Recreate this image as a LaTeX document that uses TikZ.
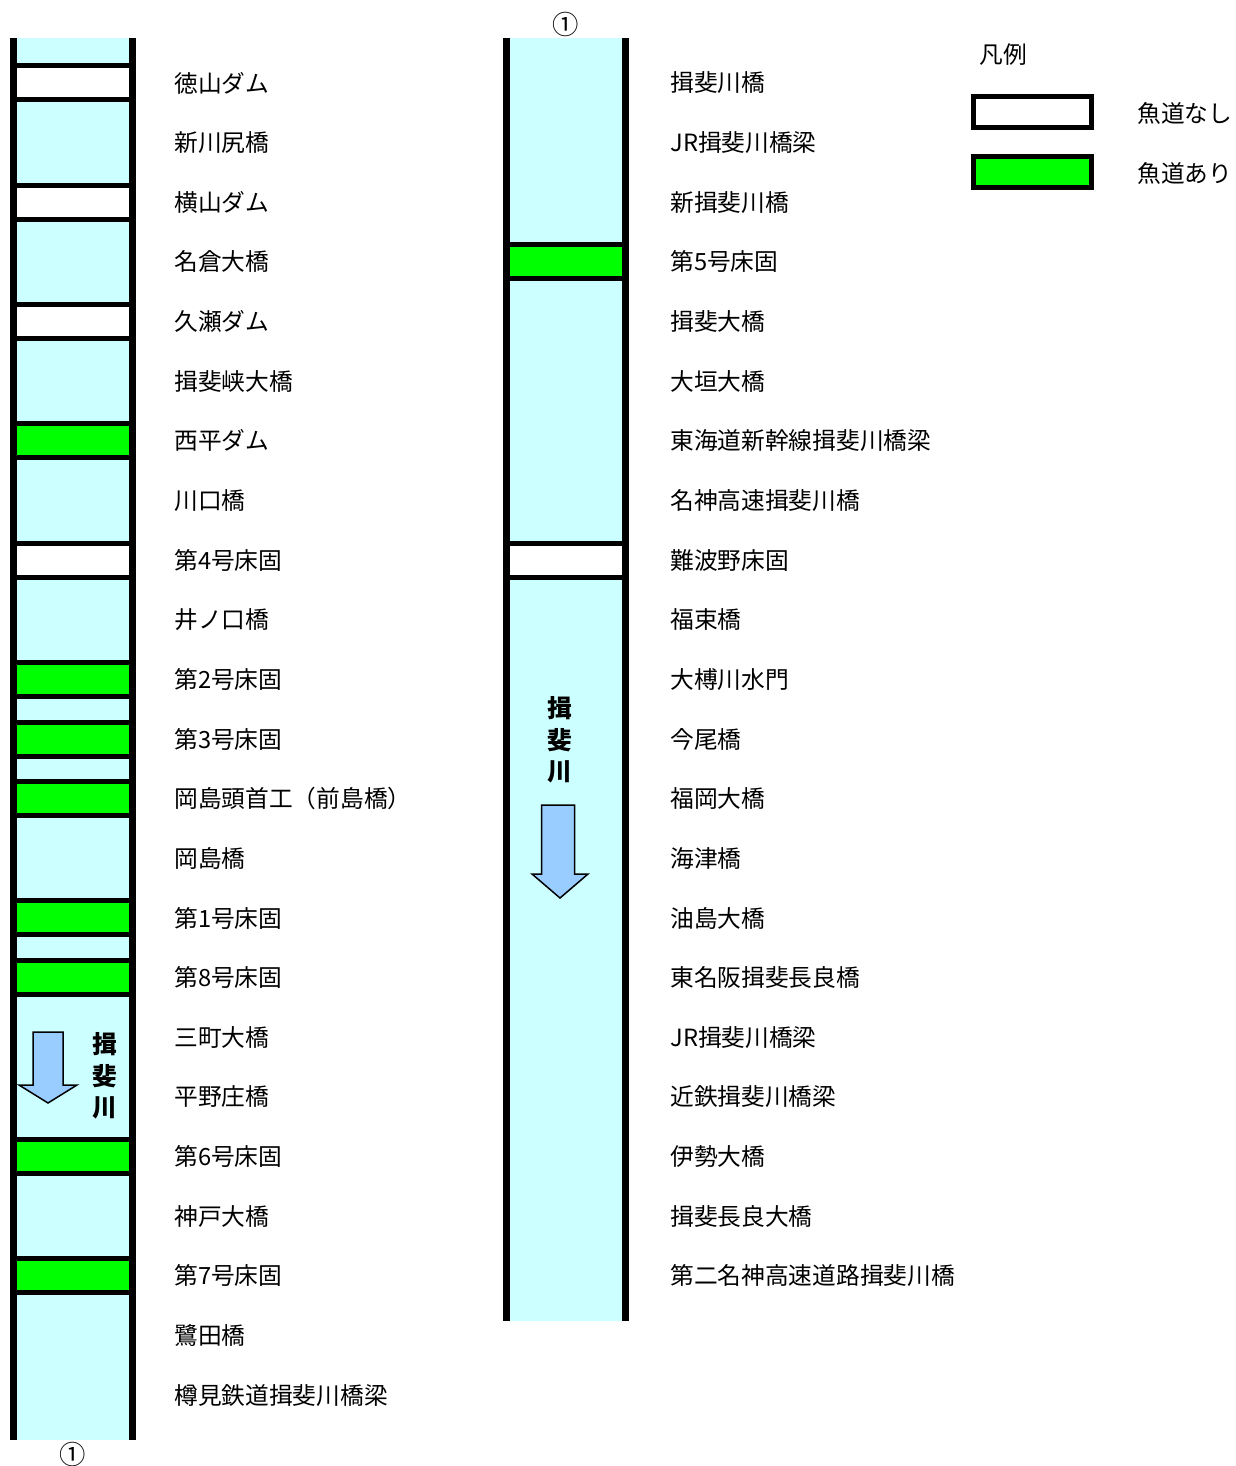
\documentclass[tikz,border=0pt]{standalone}
\usepackage{fontspec}
\setmainfont{Noto Sans CJK JP}
\usetikzlibrary{positioning}
\definecolor{river}{HTML}{CCFFFF}
\definecolor{fishway}{HTML}{00FF00}
\definecolor{flow}{HTML}{99CCFF}
\begin{document}
\begin{tikzpicture}[x=0.02cm,y=-0.02cm,
				lbl/.style={anchor=west,inner sep=0pt,font=\fontsize{13.5}{16}\selectfont},
				bank/.style={line width=7*0.02cm},
				weir/.style={draw,line width=5*0.02cm},
				riv/.style={align=center,inner sep=0pt,font=\bfseries\fontsize{14}{18}\selectfont},
				mark1/.style={inner sep=0pt,font=\fontsize{15}{16}\selectfont},
				down/.style={fill=flow,draw,line width=1.5*0.02cm}]
			\useasboundingbox (0,0) rectangle (1236,1466);
			%\tikzstyle{every node}=[text=black]
			\fill[river] (13.5,38) rectangle (132.5,1440);
			\fill[river] (506.5,38) rectangle (625.5,1321);
			\foreach \i/\c in {0/white,2/white,4/white,6/fishway,8/white,10/fishway,11/fishway,12/fishway,14/fishway,15/fishway,18/fishway,20/fishway}
				\draw[weir,fill=\c] (13.5,83+59.64*\i-17) rectangle (132.5,83+59.64*\i+17);
			\foreach \i/\c in {3/fishway,8/white}
				\draw[weir,fill=\c] (506.5,83+59.64*\i-17) rectangle (625.5,83+59.64*\i+17);
			\draw[bank] (13.5,38) -- (13.5,1440) (132.5,38) -- (132.5,1440);
			\draw[bank] (506.5,38) -- (506.5,1321) (625.5,38) -- (625.5,1321);
			\foreach \t [count=\i from 0] in {徳山ダム,新川尻橋,横山ダム,名倉大橋,久瀬ダム,揖斐峡大橋,西平ダム,川口橋,第4号床固,井ノ口橋,第2号床固,第3号床固,岡島頭首工（前島橋）,岡島橋,第1号床固,第8号床固,三町大橋,平野庄橋,第6号床固,神戸大橋,第7号床固,鷺田橋,樽見鉄道揖斐川橋梁}
				\node[lbl] (up\i) at (174,83+59.64*\i) {\t};
			\foreach \t [count=\i from 0] in {揖斐川橋,JR揖斐川橋梁,新揖斐川橋,第5号床固,揖斐大橋,大垣大橋,東海道新幹線揖斐川橋梁,名神高速揖斐川橋,難波野床固,福束橋,大榑川水門,今尾橋,福岡大橋,海津橋,油島大橋,東名阪揖斐長良橋,JR揖斐川橋梁,近鉄揖斐川橋梁,伊勢大橋,揖斐長良大橋,第二名神高速道路揖斐川橋}
				\node[lbl] (lo\i) at (670,83+59.64*\i) {\t};
			\node[mark1] (cont1) at (73,1454) {①};
			\node[mark1] (cont2) at (566,24) {①};
			\node[riv] (name1) at (105,1076) {揖\\斐\\川};
			\node[riv] (name2) at (560,740) {揖\\斐\\川};
			\draw[down] (33,1032) -- (63,1032) -- (63,1085) -- (77,1085) -- (48,1103) -- (19,1085) -- (33,1085) -- cycle;
			\draw[down] (541.5,805) -- (574.5,805) -- (574.5,874) -- (588,874) -- (560,898) -- (532,874) -- (541.5,874) -- cycle;
			\node[lbl] (key) at (979,55) {凡例};
			\draw[weir,fill=white] (973,97) rectangle (1091,128);
			\draw[weir,fill=fishway] (973,157) rectangle (1091,188);
			\node[lbl] (nofish) at (1137,113) {魚道なし};
			\node[lbl] (fish) at (1137,173) {魚道あり};
		\end{tikzpicture}
\end{document}
